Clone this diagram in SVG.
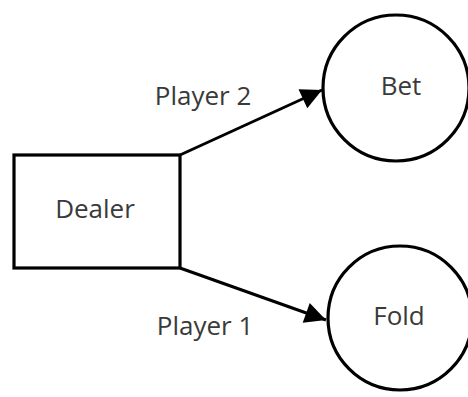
<svg xmlns="http://www.w3.org/2000/svg" width="468" height="397" viewBox="0 0 468 397">
<defs>
<marker id="arr" viewBox="0 0 10 10" refX="10" refY="5" markerWidth="7.5" markerHeight="7" markerUnits="strokeWidth" orient="auto">
<path d="M0,0 L10,5 L0,10 z" fill="#000"/>
</marker>
</defs>
<style>
.shape{fill:#fff;stroke:#000;stroke-width:3.2}
.lbl{font-family:"Open Sans","Noto Sans",sans-serif;font-size:26px;fill:#3a3a3a;text-anchor:middle}
.edge{stroke:#000;stroke-width:3;fill:none}
</style>
<rect width="468" height="397" fill="#fff"/>
<g id="connectors">
<line class="edge" x1="180" y1="155" x2="322" y2="90" marker-end="url(#arr)"/>
<line class="edge" x1="180" y1="268" x2="326" y2="320" marker-end="url(#arr)"/>
<text class="lbl" x="203" y="105">Player 2</text>
<text class="lbl" x="205" y="335">Player 1</text>
</g>
<g id="dealer">
<rect class="shape" x="14" y="155" width="166" height="113"/>
<text class="lbl" x="95" y="218">Dealer</text>
</g>
<g id="bet">
<circle class="shape" cx="396" cy="88" r="73"/>
<text class="lbl" x="401" y="95">Bet</text>
</g>
<g id="fold">
<circle class="shape" cx="400" cy="318" r="72"/>
<text class="lbl" x="399" y="325">Fold</text>
</g>
</svg>
